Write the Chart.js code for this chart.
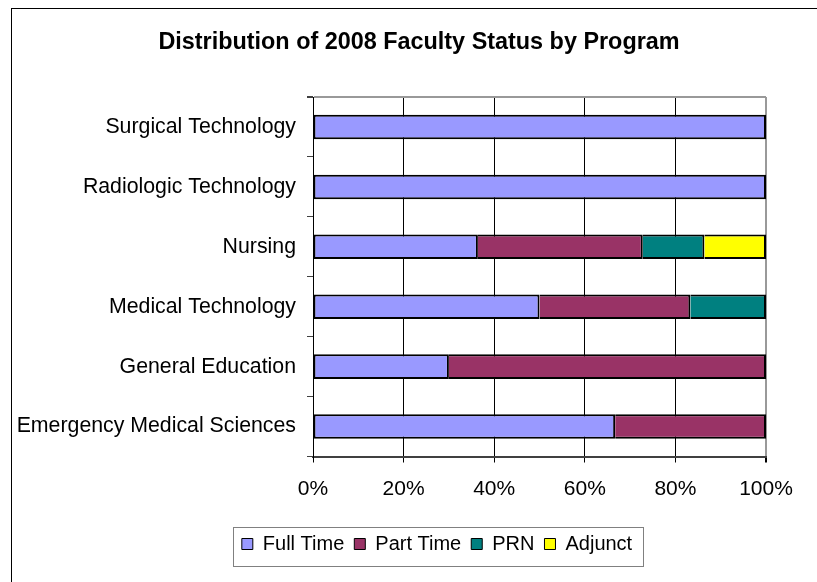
<!DOCTYPE html>
<html>
<head>
<meta charset="utf-8">
<script src="https://cdn.jsdelivr.net/npm/chart.js@4.4.1/dist/chart.umd.min.js"></script>
<style>
html,body{margin:0;padding:0;background:#fff;overflow:hidden}
#frame{position:absolute;left:11px;top:8px;width:900px;height:700px;border:1px solid #000}
#wrap{position:absolute;left:0;top:0;width:817px;height:582px}
</style>
</head>
<body>
<div id="frame"></div>
<div id="wrap"><canvas id="chart"></canvas></div>
<script>
// programs, top to bottom as in the picture
const programs = ['Surgical Technology','Radiologic Technology','Nursing','Medical Technology','General Education','Emergency Medical Sciences'];
// share of faculty (%) per status
const fullTime = [100, 100, 36.4, 50, 30, 66.7];
const partTime = [0, 0, 36.4, 33.3, 70, 33.3];
const prn      = [0, 0, 13.6, 16.7, 0, 0];
const adjunct  = [0, 0, 13.6, 0, 0, 0];
const pctTicks = [0, 20, 40, 60, 80, 100];

Chart.defaults.font.family = 'Arial, "Liberation Sans", sans-serif';
Chart.defaults.font.size = 21;
Chart.defaults.color = '#000';

function ds(label, data, color, first){
  return { label, data, backgroundColor: color, borderColor: '#000', borderWidth: 2,
    borderSkipped: first ? false : 'start', barPercentage: 0.41, categoryPercentage: 1 };
}

// excel-ish layout: title and legend are not centred on the same x, legend has a frame
const excelLook = {
  id: 'excelLook',
  afterLayout(chart){
    const t = chart.titleBlock, lg = chart.legend;
    if(t){ t.left += 31; t.right += 31; }
    if(lg){ lg.left += 49; lg.right += 49; }
  },
  afterDraw(chart){
    const hb = chart.legend && chart.legend.legendHitBoxes;
    if(!hb || !hb.length) return;
    const a = hb[0], b = hb[hb.length-1];
    const x0 = Math.round(a.left - 9) + 0.5, x1 = Math.round(b.left + b.width + 11) + 0.5;
    const y0 = Math.round(a.top - 7) + 0.5, y1 = Math.round(a.top + a.height + 12) + 0.5;
    const ctx = chart.ctx;
    ctx.save(); ctx.strokeStyle = '#808080'; ctx.lineWidth = 1;
    ctx.strokeRect(x0, y0, x1 - x0, y1 - y0);
    ctx.restore();
  }
};

new Chart(document.getElementById('chart'), {
  type: 'bar',
  data: {
    labels: programs,
    datasets: [
      ds('Full Time', fullTime, '#9999FF', true),
      ds('Part Time', partTime, '#993366'),
      ds('PRN', prn, '#008080'),
      ds('Adjunct', adjunct, '#FFFF00')
    ]
  },
  options: {
    indexAxis: 'y',
    responsive: true,
    maintainAspectRatio: false,
    animation: false,
    layout: { padding: { left: 10, right: 51, top: 0, bottom: 18 } },
    scales: {
      x: {
        stacked: true, min: 0, max: 100,
        afterBuildTicks: s => { s.ticks = pctTicks.map(v => ({ value: v })); },
        afterFit: s => { s.height += 8.3; },
        border: { color: '#404040', width: 2 },
        grid: {
          color: c => (c.tick && c.tick.value === 100) ? '#999999' : '#000',
          lineWidth: c => (c.tick && c.tick.value === 100) ? 2 : 1,
          tickColor: '#000', tickLength: 6
        },
        ticks: { padding: 14, maxRotation: 0, color: '#000', callback: v => v + '%' }
      },
      y: {
        stacked: true,
        afterFit: s => { s.width = 303; },
        border: { color: '#000', width: 1 },
        grid: {
          offset: true,
          color: c => c.index === 0 ? '#999999' : 'rgba(0,0,0,0)',
          lineWidth: c => c.index === 0 ? 2 : 1,
          tickColor: '#404040', tickLength: 6
        },
        ticks: { padding: 11, color: '#000', font: { size: 21.3 } }
      }
    },
    plugins: {
      title: {
        display: true,
        text: 'Distribution of 2008 Faculty Status by Program',
        color: '#000',
        font: { size: 23.4, weight: 'bold' },
        padding: { top: 29, bottom: 40 }
      },
      legend: {
        position: 'bottom',
        labels: {
          boxWidth: 11, boxHeight: 11, padding: 10, color: '#000', font: { size: 20 },
          generateLabels(chart){
            const items = Chart.defaults.plugins.legend.labels.generateLabels(chart);
            items.forEach(i => { i.lineWidth = 1; i.strokeStyle = '#000'; });
            return items;
          }
        }
      },
      tooltip: { enabled: false }
    }
  },
  plugins: [excelLook]
});
</script>
</body>
</html>
